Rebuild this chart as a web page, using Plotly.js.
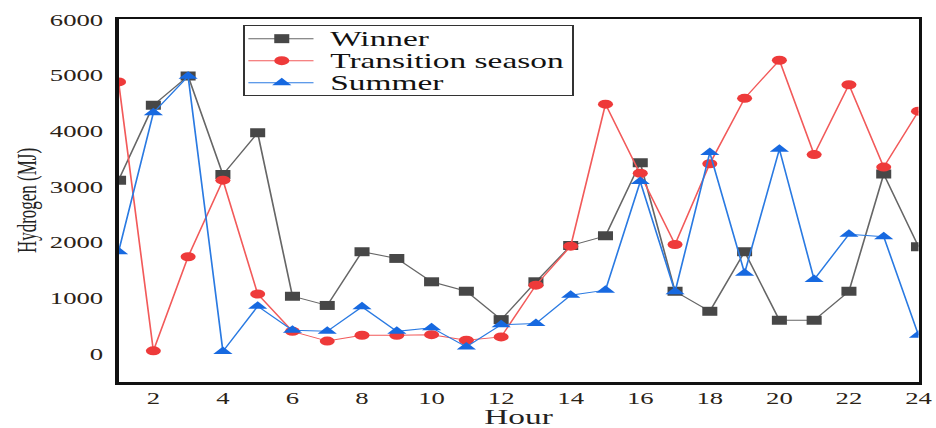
<!DOCTYPE html>
<html>
<head>
<meta charset="utf-8">
<script src="https://cdn.plot.ly/plotly-3.0.1.min.js"></script>
<style>
  html, body { margin: 0; padding: 0; background: #fff; overflow: hidden; }
  #wrap { width: 936px; height: 428px; overflow: hidden; }
  #chart { width: 560px; height: 428px; transform: scaleX(1.67); transform-origin: 0 0; }
</style>
</head>
<body>
<div id="wrap"><div id="chart"></div></div>
<script>
const hours = [1,2,3,4,5,6,7,8,9,10,11,12,13,14,15,16,17,18,19,20,21,22,23,24];
const winner = [3125,4470,4995,3225,3975,1040,875,1840,1720,1300,1130,620,1300,1950,2125,3440,1130,770,1840,610,610,1130,3235,1930];
const transition = [4890,60,1750,3125,1080,410,235,340,340,350,250,310,1240,1940,4490,3250,1970,3420,4595,5280,3585,4840,3360,4365];
const summer = [1840,4335,4990,50,860,430,410,850,410,475,130,530,550,1060,1150,3100,1120,3620,1455,3680,1340,2155,2110,340];
const seriesNames = ["Winner", "Transition season", "Summer"];
const xTicks = [2,4,6,8,10,12,14,16,18,20,22,24];
const yTicks = [0,1000,2000,3000,4000,5000,6000];

const serif = "Liberation Serif";

const traces = [
  {x: hours, y: winner, name: seriesNames[0], mode: "lines+markers",
   line: {color: "#666666", width: 1},
   marker: {symbol: "square", size: 9, color: "#474747"}},
  {x: hours, y: transition, name: seriesNames[1], mode: "lines+markers",
   line: {color: "#f25a5a", width: 1},
   marker: {symbol: "circle", size: 9, color: "#ee3a3a"}},
  {x: hours, y: summer, name: seriesNames[2], mode: "lines+markers",
   line: {color: "#2a7ae2", width: 1},
   marker: {symbol: "triangle-up", size: 10, color: "#1769e0"}}
];

const layout = {
  width: 560, height: 428,
  margin: {l: 71, r: 10, t: 19, b: 46},
  paper_bgcolor: "#fff", plot_bgcolor: "#fff",
  showlegend: true,
  legend: {x: 0.156, y: 0.983, xanchor: "left", yanchor: "top",
           bgcolor: "#fff", bordercolor: "#333", borderwidth: 1,
           font: {family: serif, size: 20, color: "#111"}, tracegroupgap: 0},
  xaxis: {range: [1, 24], tickvals: xTicks, ticktext: xTicks.map(String),
          showgrid: false, zeroline: false, showline: true, mirror: true,
          linecolor: "#111", linewidth: 2.5, ticks: "",
          tickfont: {family: serif, size: 16, color: "#2a2216"},
          title: {text: "Hour", font: {family: serif, size: 20, color: "#222"}, standoff: 13}},
  yaxis: {range: [-500, 6020], tickvals: yTicks, ticktext: yTicks.map(String),
          showgrid: false, zeroline: false, showline: true, mirror: true,
          linecolor: "#111", linewidth: 2, ticks: "", ticklabelstandoff: 4,
          tickfont: {family: serif, size: 16, color: "#2a2216"},
          title: {text: "Hydrogen (MJ)", font: {family: serif, size: 17, color: "#222"}, standoff: 3}}
};

Plotly.newPlot("chart", traces, layout, {displayModeBar: false, staticPlot: true}).then(function (gd) {
  // tighten legend rows and lengthen its symbols to match the reference
  const rowGap = 22, firstShift = -7, textShift = 11;
  const items = gd.querySelectorAll(".legend .traces");
  if (items.length < 2) return;
  const parseT = el => {
    const m = /translate\(\s*([-\d.]+)[ ,]+([-\d.]+)\s*\)/.exec(el.getAttribute("transform") || "");
    return m ? [parseFloat(m[1]), parseFloat(m[2])] : [0, 0];
  };
  const first = parseT(items[0]);
  const second = parseT(items[1]);
  const origGap = second[1] - first[1];
  items.forEach((el, i) => {
    const p = parseT(el);
    el.setAttribute("transform", "translate(" + p[0] + "," + (first[1] + firstShift + i * rowGap) + ")");
    el.querySelectorAll(".legendtext").forEach(t => {
      const x = parseFloat(t.getAttribute("x")) || 40;
      t.setAttribute("x", x + textShift);
    });
    el.querySelectorAll(".legendlines path").forEach(p2 => p2.setAttribute("d", "M2,0h39"));
    el.querySelectorAll(".legendpoints path").forEach(p2 => p2.setAttribute("transform", "translate(22,0)"));
    el.querySelectorAll(".legendtoggle").forEach(r => {
      const w = parseFloat(r.getAttribute("width"));
      if (!isNaN(w)) r.setAttribute("width", w + textShift);
    });
  });
  const shrink = (origGap - rowGap) * (items.length - 1) - firstShift * 2;
  gd.querySelectorAll(".legend .bg").forEach(r => {
    const h = parseFloat(r.getAttribute("height"));
    const w = parseFloat(r.getAttribute("width"));
    if (!isNaN(h)) r.setAttribute("height", h - shrink);
    if (!isNaN(w)) r.setAttribute("width", w + textShift);
  });
  gd.querySelectorAll(".legend .scrollbox").forEach(s => s.removeAttribute("clip-path"));
});
</script>
</body>
</html>
